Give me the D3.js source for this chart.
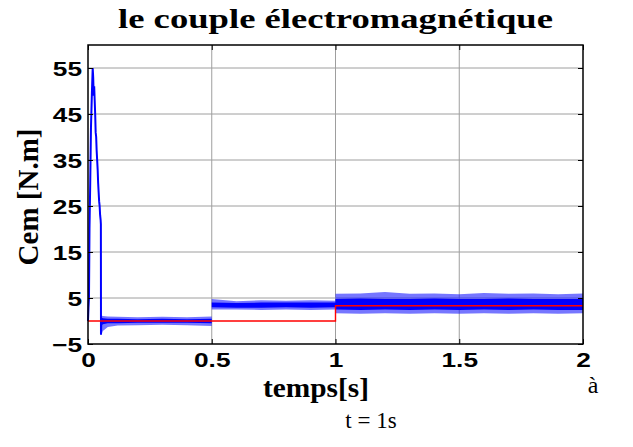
<!DOCTYPE html>
<html>
<head>
<meta charset="utf-8">
<script src="https://cdn.jsdelivr.net/npm/d3@7"></script>
<style>
  body { margin: 0; background: #fff; }
  svg { display: block; }
</style>
</head>
<body>
<svg id="chart" width="633" height="447"></svg>
<script>
// reference torque (red)
const refT = [0, 1, 1, 2];
const refV = [0, 0, 3.33, 3.33];

// start-up transient of Cem (blue)
const transT = [0, 0.002, 0.004, 0.006, 0.009, 0.012, 0.016, 0.019, 0.021, 0.023, 0.025, 0.027,
  0.029, 0.031, 0.033, 0.035, 0.037, 0.039, 0.041, 0.043, 0.045, 0.047, 0.049, 0.051, 0.052, 0.0525, 0.054];
const transV = [0, 3, 5, 20, 30, 42, 50, 55, 53, 49, 51, 48,
  45, 41, 40, 37, 35, 33, 30, 28, 26, 25, 23, 22, 21, -3, 0.5];

// ripple envelope of Cem after the transient
const bandT   = [0.054, 0.06, 0.08, 0.12, 0.2, 0.3, 0.4, 0.5, 0.5, 0.6, 0.7, 0.8, 0.9, 1.0, 1.0, 1.1, 1.2, 1.3, 1.4, 1.5, 1.6, 1.7, 1.8, 1.9, 2.0];
const outerLo = [-3, -2.2, -1.3, -1.0, -0.9, -0.8, -0.9, -1.1, 2.5, 2.5, 2.4, 2.5, 2.4, 2.5, 1.7, 1.6, 1.7, 1.6, 1.7, 1.6, 1.7, 1.6, 1.7, 1.6, 1.7];
const outerHi = [1.2, 1.1, 1.0, 0.9, 0.8, 0.9, 0.8, 1.0, 4.8, 4.3, 4.5, 4.4, 4.5, 4.4, 5.9, 6.0, 6.3, 5.9, 6.0, 5.8, 6.1, 5.9, 6.0, 5.8, 6.0];
const coreLo  = [-1.0, -0.7, -0.5, -0.5, -0.4, -0.4, -0.4, -0.5, 3.0, 2.9, 2.9, 3.0, 2.9, 3.0, 2.5, 2.4, 2.5, 2.4, 2.5, 2.4, 2.5, 2.4, 2.5, 2.4, 2.4];
const coreHi  = [0.8, 0.6, 0.5, 0.5, 0.4, 0.5, 0.4, 0.5, 4.0, 3.9, 4.0, 4.0, 4.0, 4.0, 4.8, 4.9, 4.8, 4.8, 4.9, 4.8, 4.8, 4.9, 4.8, 4.8, 4.8];

const xTicks = [0, 0.5, 1, 1.5, 2];
const xTickLabels = ["0", "0.5", "1", "1.5", "2"];
const yTicks = [-5, 5, 15, 25, 35, 45, 55];

const svg = d3.select("#chart");
const pLeft = 88, pRight = 583, pTop = 45, pBottom = 344;

const x = d3.scaleLinear().domain([0, 2]).range([pLeft, pRight]);
const y = d3.scaleLinear().domain([-5, 60]).range([pBottom, pTop]);

// grid
const grid = svg.append("g").attr("class", "grid");
grid.selectAll("line.gx")
  .data(xTicks.slice(1, -1))
  .join("line")
  .attr("class", "gx")
  .attr("x1", d => x(d)).attr("x2", d => x(d))
  .attr("y1", pTop).attr("y2", pBottom)
  .attr("stroke", "#9e9e9e").attr("stroke-width", 1);
grid.selectAll("line.gy")
  .data(yTicks.slice(1))
  .join("line")
  .attr("class", "gy")
  .attr("x1", pLeft).attr("x2", pRight)
  .attr("y1", d => y(d)).attr("y2", d => y(d))
  .attr("stroke", "#9e9e9e").attr("stroke-width", 1);

// blue ripple band
const band = bandT.map((t, i) => ({ t, olo: outerLo[i], ohi: outerHi[i], clo: coreLo[i], chi: coreHi[i] }));
svg.append("path")
  .datum(band)
  .attr("fill", "#1a1aff").attr("fill-opacity", 0.6)
  .attr("d", d3.area().x(d => x(d.t)).y0(d => y(d.olo)).y1(d => y(d.ohi)));
svg.append("path")
  .datum(band)
  .attr("fill", "#0000ff")
  .attr("d", d3.area().x(d => x(d.t)).y0(d => y(d.clo)).y1(d => y(d.chi)));

// blue transient
const trans = transT.map((t, i) => ({ t, v: transV[i] }));
svg.append("path")
  .datum(trans)
  .attr("fill", "none").attr("stroke", "#0000ff").attr("stroke-width", 2)
  .attr("d", d3.line().x(d => x(d.t)).y(d => y(d.v)));

// red reference
const ref = refT.map((t, i) => ({ t, v: refV[i] }));
svg.append("path")
  .datum(ref)
  .attr("fill", "none").attr("stroke", "#ff0000").attr("stroke-width", 1.4)
  .attr("d", d3.line().x(d => x(d.t)).y(d => y(d.v)));

// axes, ticks inside like matlab
const SX = 1.25;
const yAxis = svg.append("g")
  .attr("transform", `translate(${pLeft},0)`)
  .call(d3.axisLeft(y).tickValues(yTicks).tickSize(-5).tickPadding(6));
const xAxis = svg.append("g")
  .attr("transform", `translate(0,${pBottom})`)
  .call(d3.axisBottom(x).tickValues(xTicks).tickFormat((d, i) => xTickLabels[i]).tickSize(-5).tickPadding(8));
svg.append("g")
  .attr("transform", `translate(0,${pTop})`)
  .call(d3.axisTop(x).tickValues(xTicks).tickSize(-5).tickFormat(""));
svg.append("g")
  .attr("transform", `translate(${pRight},0)`)
  .call(d3.axisRight(y).tickValues(yTicks).tickSize(-5).tickFormat(""));

svg.selectAll(".domain").remove();
svg.selectAll(".tick line").attr("stroke", "#000");
svg.selectAll(".tick text")
  .attr("fill", "#000")
  .style("font-family", "'Liberation Sans', Arial, sans-serif")
  .style("font-weight", "bold")
  .style("font-size", "21px");
yAxis.selectAll(".tick text")
  .attr("x", -6 / SX)
  .attr("dy", "0.36em")
  .attr("transform", `scale(${SX},1)`);
xAxis.selectAll(".tick text")
  .attr("dy", "0.7em")
  .attr("transform", `scale(${SX},1)`);

// frame
svg.append("rect")
  .attr("x", pLeft).attr("y", pTop)
  .attr("width", pRight - pLeft).attr("height", pBottom - pTop)
  .attr("fill", "none").attr("stroke", "#000").attr("stroke-width", 1.5);

// titles
svg.append("text")
  .attr("x", (pLeft + pRight) / 2).attr("y", 28)
  .attr("text-anchor", "middle")
  .style("font-family", "'Liberation Serif', 'Times New Roman', serif")
  .style("font-weight", "bold").style("font-size", "27px")
  .attr("textLength", 435).attr("lengthAdjust", "spacingAndGlyphs")
  .text("le couple électromagnétique");

svg.append("text")
  .attr("transform", "translate(38,197) rotate(-90)")
  .attr("text-anchor", "middle")
  .style("font-family", "'Liberation Serif', 'Times New Roman', serif")
  .style("font-weight", "bold").style("font-size", "29px")
  .text("Cem [N.m]");

svg.append("text")
  .attr("x", 316).attr("y", 397)
  .attr("text-anchor", "middle")
  .style("font-family", "'Liberation Serif', 'Times New Roman', serif")
  .style("font-weight", "bold").style("font-size", "27px")
  .attr("textLength", 106).attr("lengthAdjust", "spacingAndGlyphs")
  .text("temps[s]");

svg.append("text")
  .attr("x", 593).attr("y", 393)
  .attr("text-anchor", "middle")
  .style("font-family", "'Liberation Serif', 'Times New Roman', serif")
  .style("font-size", "24px")
  .text("à");

svg.append("text")
  .attr("x", 371).attr("y", 428)
  .attr("text-anchor", "middle")
  .style("font-family", "'Liberation Serif', 'Times New Roman', serif")
  .style("font-size", "23px")
  .text("t = 1s");
</script>
</body>
</html>
